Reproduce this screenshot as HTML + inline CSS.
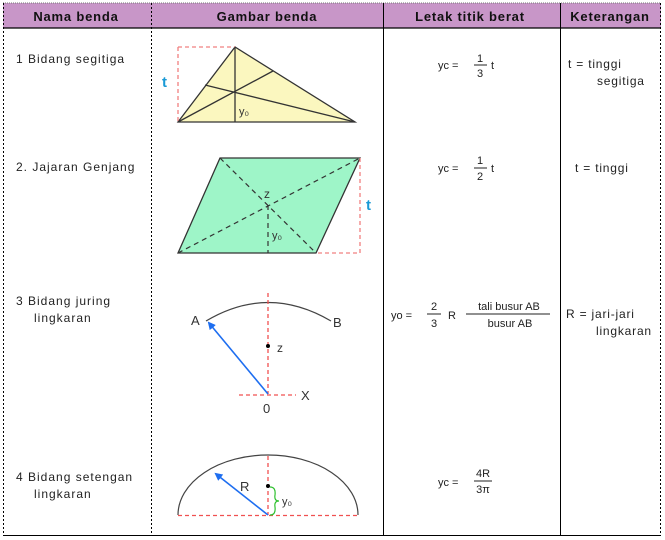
<!DOCTYPE html>
<html><head><meta charset="utf-8"><style>
html,body{margin:0;padding:0;background:#fff;}
svg{display:block;font-family:"Liberation Sans",sans-serif;}
</style></head><body>
<svg width="665" height="540" viewBox="0 0 665 540" xmlns="http://www.w3.org/2000/svg">
<defs>
<marker id="ah" markerWidth="8" markerHeight="8" refX="6" refY="4" orient="auto" markerUnits="userSpaceOnUse"><path d="M0,0 L8,4 L0,8 z" fill="#1e6ef0"/></marker>
</defs>
<rect x="3" y="3" width="658" height="25" fill="#c896c8"/>
<line x1="3" y1="28" x2="661" y2="28" stroke="#000" stroke-width="1.2"/>
<line x1="3" y1="3" x2="661" y2="3" stroke="#777" stroke-width="1" stroke-dasharray="1,1"/>
<g font-weight="bold" font-size="13" letter-spacing="0.8" fill="#111" text-anchor="middle">
<text x="76" y="21">Nama benda</text>
<text x="267" y="21">Gambar benda</text>
<text x="470" y="21">Letak titik berat</text>
<text x="610" y="21">Keterangan</text>
</g>
<line x1="3.5" y1="3" x2="3.5" y2="536" stroke="#000" stroke-dasharray="2,2"/>
<line x1="151.5" y1="3" x2="151.5" y2="536" stroke="#000" stroke-dasharray="2,2"/>
<line x1="383.5" y1="3" x2="383.5" y2="536" stroke="#000"/>
<line x1="560.5" y1="3" x2="560.5" y2="536" stroke="#000"/>
<line x1="660.5" y1="3" x2="660.5" y2="536" stroke="#000" stroke-dasharray="2,2"/>
<line x1="3" y1="535.5" x2="661" y2="535.5" stroke="#000"/>
<g font-size="12" letter-spacing="1" fill="#222">
<text x="16" y="63">1  Bidang segitiga</text>
<text x="16" y="171">2. Jajaran Genjang</text>
<text x="16" y="305">3  Bidang juring</text>
<text x="34" y="322">lingkaran</text>
<text x="16" y="481">4  Bidang setengan</text>
<text x="34" y="498">lingkaran</text>
</g>
<polygon points="178,122 235,47 355,122" fill="#fbf7bf" stroke="#333" stroke-width="1.3"/>
<path d="M178,47 H235 M178,47 V122" stroke="#f08080" stroke-width="1.3" stroke-dasharray="4,3" fill="none"/>
<line x1="235" y1="47" x2="235" y2="122" stroke="#333" stroke-width="1.3"/>
<line x1="178" y1="122" x2="273" y2="71" stroke="#333" stroke-width="1.3"/>
<line x1="355" y1="122" x2="205" y2="85" stroke="#333" stroke-width="1.3"/>
<text x="239" y="115" font-size="11" fill="#333">y₀</text>
<text x="162" y="87" font-size="15" font-weight="bold" fill="#1a9ad6">t</text>
<polygon points="178,253 220,158 360,158 316,253" fill="#9ef5c8" stroke="#333" stroke-width="1.3"/>
<g stroke="#333" stroke-width="1.2" stroke-dasharray="5,4" fill="none">
<line x1="178" y1="253" x2="360" y2="158"/>
<line x1="220" y1="158" x2="316" y2="253"/>
<line x1="268" y1="205" x2="268" y2="253"/>
</g>
<path d="M360,158 V253 H316" stroke="#f08080" stroke-width="1.3" stroke-dasharray="4,3" fill="none"/>
<text x="264" y="198" font-size="12" fill="#333">z</text>
<text x="272" y="239" font-size="11" fill="#333">y₀</text>
<text x="366" y="210" font-size="15" font-weight="bold" fill="#1a9ad6">t</text>
<path d="M206,321 Q268,284 331,321" stroke="#444" stroke-width="1.2" fill="none"/>
<path d="M268,293 V394 M239,395 H296" stroke="#f05050" stroke-width="1.3" stroke-dasharray="4,3" fill="none"/>
<line x1="268" y1="394" x2="209" y2="323" stroke="#1e6ef0" stroke-width="1.6" marker-end="url(#ah)"/>
<circle cx="268" cy="346" r="2" fill="#000"/>
<g font-size="13" fill="#333">
<text x="191" y="325">A</text>
<text x="333" y="327">B</text>
<text x="277" y="352" font-size="12">z</text>
<text x="301" y="400">X</text>
<text x="263" y="413">0</text>
</g>
<path d="M178,515 A90,60 0 0 1 358,515" stroke="#444" stroke-width="1.2" fill="none"/>
<path d="M268,456 V515 M178,515.5 H360" stroke="#f05050" stroke-width="1.3" stroke-dasharray="4,3" fill="none"/>
<line x1="268" y1="515" x2="216" y2="474" stroke="#1e6ef0" stroke-width="1.6" marker-end="url(#ah)"/>
<circle cx="268" cy="486" r="2" fill="#000"/>
<path d="M270,487 Q276,487 275,495 Q274,501 279,501 Q274,501 275,507 Q276,515 270,515" stroke="#2ec02e" stroke-width="1.2" fill="none"/>
<text x="240" y="491" font-size="13" fill="#333">R</text>
<text x="282" y="505" font-size="11" fill="#333">y₀</text>
<g font-size="11" fill="#222">
<text x="438" y="69">yc =</text>
<text x="480" y="62" text-anchor="middle">1</text>
<line x1="474" y1="65" x2="487" y2="65" stroke="#222"/>
<text x="480" y="77" text-anchor="middle">3</text>
<text x="491" y="69">t</text>
<text x="438" y="172">yc =</text>
<text x="480" y="164" text-anchor="middle">1</text>
<line x1="474" y1="168" x2="487" y2="168" stroke="#222"/>
<text x="480" y="180" text-anchor="middle">2</text>
<text x="491" y="172">t</text>
<text x="391" y="319">yo =</text>
<text x="434" y="310" text-anchor="middle">2</text>
<line x1="427" y1="314" x2="441" y2="314" stroke="#222"/>
<text x="434" y="327" text-anchor="middle">3</text>
<text x="448" y="319">R</text>
<text x="509" y="310" text-anchor="middle">tali busur AB</text>
<line x1="466" y1="314" x2="550" y2="314" stroke="#222"/>
<text x="510" y="327" text-anchor="middle">busur AB</text>
<text x="438" y="486">yc =</text>
<text x="483" y="477" text-anchor="middle">4R</text>
<line x1="474" y1="481" x2="492" y2="481" stroke="#222"/>
<text x="483" y="493" text-anchor="middle">3π</text>
</g>
<g font-size="12" letter-spacing="0.8" fill="#222">
<text x="568" y="68">t = tinggi</text>
<text x="597" y="85">segitiga</text>
<text x="575" y="172">t = tinggi</text>
<text x="566" y="318">R = jari-jari</text>
<text x="596" y="335">lingkaran</text>
</g>
</svg>
</body></html>
